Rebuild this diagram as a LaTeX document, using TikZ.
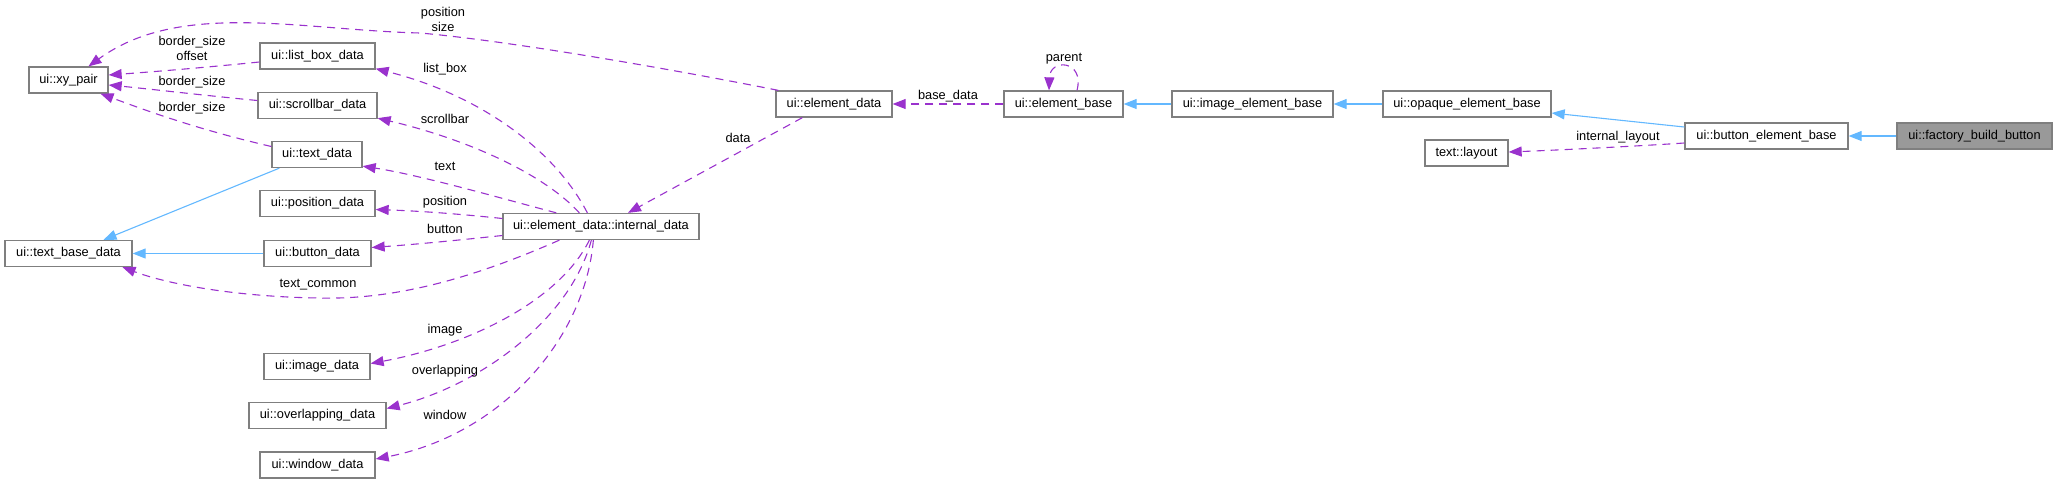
\documentclass[tikz,border=0pt]{standalone}
\usepackage{fontspec}
\setmainfont{Liberation Sans}
\usetikzlibrary{arrows.meta,calc}
\definecolor{depc}{HTML}{9A32CD}
\definecolor{inhc}{HTML}{63B8FF}
\definecolor{boxc}{HTML}{7F7F7F}
\definecolor{selc}{HTML}{999999}
\begin{document}
\begin{tikzpicture}[x=1pt,y=-1pt,font=\fontsize{12.8}{15}\selectfont,
  box/.style={draw=boxc,line width=1.3pt,fill=white,minimum height=26pt,inner sep=0pt,anchor=center},
  depl/.style={draw=depc,line width=1.1pt,dash pattern=on 8pt off 6pt,-{Triangle[length=13pt,width=10pt]}},
  inhl/.style={draw=inhc,line width=1.1pt,-{Triangle[length=13pt,width=10pt]}},
  lbl/.style={inner sep=0pt,align=center}]
\useasboundingbox (0,0) rectangle (2057,483);
% nodes
\node[box,minimum width=79pt]  (xy)   at (68.5,80)   {ui::xy\_pair};
\node[box,minimum width=115pt] (lbd)  at (317.5,56)  {ui::list\_box\_data};
\node[box,minimum width=119pt] (sbd)  at (317.5,105.5) {ui::scrollbar\_data};
\node[box,minimum width=90pt]  (td)   at (317,154.5) {ui::text\_data};
\node[box,minimum width=115pt] (pd)   at (317.5,203.5) {ui::position\_data};
\node[box,minimum width=127pt] (tbd)  at (68.5,253.5) {ui::text\_base\_data};
\node[box,minimum width=107pt] (bd)   at (317.5,253.5) {ui::button\_data};
\node[box,minimum width=106pt] (id)   at (317,366.5) {ui::image\_data};
\node[box,minimum width=137pt] (od)   at (317.5,415.5) {ui::overlapping\_data};
\node[box,minimum width=115pt] (wd)   at (317.5,465)  {ui::window\_data};
\node[box,minimum width=196pt] (idata) at (601,226.5) {ui::element\_data::internal\_data};
\node[box,minimum width=116pt] (ed)   at (834,104)   {ui::element\_data};
\node[box,minimum width=119pt] (eb)   at (1063.5,104) {ui::element\_base};
\node[box,minimum width=161pt] (ieb)  at (1252.5,104) {ui::image\_element\_base};
\node[box,minimum width=168pt] (oeb)  at (1467,104)  {ui::opaque\_element\_base};
\node[box,minimum width=83pt]  (tl)   at (1466.5,153) {text::layout};
\node[box,minimum width=163pt] (beb)  at (1766.5,136) {ui::button\_element\_base};
\node[box,minimum width=155pt,fill=selc] (fbb) at (1974.5,136) {ui::factory\_build\_button};
% edges
\draw[depl] ($(ed.north west)+(3,0)$) .. controls (650,65) and (500,40) .. (420,33) .. controls (300,30) and (180,0) .. ($(xy.north)+(20,0)$);
\draw[depl] ($(lbd.west)+(0,6)$) .. controls (200,68) and (150,72) .. ($(xy.east)+(0,-5)$);
\draw[depl] ($(sbd.west)+(0,-5)$) .. controls (200,95) and (150,89) .. ($(xy.east)+(0,5)$);
\draw[depl] ($(td.west)+(0,-8)$) .. controls (200,130) and (150,112) .. ($(xy.south)+(32,0)$);
\draw[inhl] ($(td.south west)+(8,0)$) -- ($(tbd.north)+(35,0)$);
\draw[inhl] (bd.west) -- (tbd.east);
\draw[depl] ($(idata.south west)+(57,0)$) .. controls (480,275) and (400,300) .. (320,298) .. controls (240,297) and (170,285) .. ($(tbd.south)+(54,0)$);
\draw[depl] ($(idata.north west)+(85,0)$) .. controls (555,150) and (480,95) .. ($(lbd.south east)+(0,-1)$);
\draw[depl] ($(idata.north west)+(77,0)$) .. controls (545,175) and (470,140) .. ($(sbd.south east)+(0,-1)$);
\draw[depl] ($(idata.north west)+(54,0)$) .. controls (500,198) and (420,175) .. ($(td.south east)+(0,-2)$);
\draw[depl] ($(idata.west)+(0,-8)$) .. controls (460,214) and (420,211) .. ($(pd.east)+(0,6)$);
\draw[depl] ($(idata.west)+(0,9)$) .. controls (460,240) and (420,244) .. ($(bd.east)+(0,-6)$);
\draw[depl] ($(idata.south west)+(87,0)$) .. controls (560,300) and (470,345) .. ($(id.east)+(0,-3)$);
\draw[depl] ($(idata.south west)+(89,0)$) .. controls (570,320) and (480,385) .. ($(od.east)+(0,-7)$);
\draw[depl] ($(idata.south west)+(91,0)$) .. controls (585,340) and (500,435) .. ($(wd.east)+(0,-6)$);
\draw[depl] ($(ed.south west)+(27,0)$) -- ($(idata.north)+(27,0)$);
\draw[depl] (eb.west) -- (ed.east);
\draw[depl] ($(eb.north)+(13.5,0)$) .. controls (1085,60) and (1050,58) .. ($(eb.north)+(-14.5,0)$);
\draw[inhl] (ieb.west) -- (eb.east);
\draw[inhl] (oeb.west) -- (ieb.east);
\draw[inhl] ($(beb.west)+(0,-9)$) -- ($(oeb.east)+(0,9)$);
\draw[depl] ($(beb.west)+(0,7)$) .. controls (1640,146) and (1560,150) .. ($(tl.east)+(0,-1)$);
\draw[inhl] (fbb.west) -- (beb.east);
% labels
\node[lbl] (l1) at (443,19) {position\\size};
\node[lbl] (l2) at (192,48) {border\_size\\offset};
\node[lbl] (l3) at (192,82) {border\_size};
\node[lbl] (l4) at (192,108) {border\_size};
\node[lbl] (l5) at (318,285) {text\_common};
\node[lbl] (l6) at (445,69) {list\_box};
\node[lbl] (l7) at (445,119) {scrollbar};
\node[lbl] (l8) at (445,166) {text};
\node[lbl] (l9) at (445,202) {position};
\node[lbl] (l10) at (445,229) {button};
\node[lbl] (l11) at (445,330) {image};
\node[lbl] (l12) at (445,371) {overlapping};
\node[lbl] (l13) at (445,415) {window};
\node[lbl] (l14) at (738,138) {data};
\node[lbl] (l15) at (948,96) {base\_data};
\node[lbl] (l16) at (1064,59) {parent};
\node[lbl] (l17) at (1618,137) {internal\_layout};
\end{tikzpicture}
\end{document}
